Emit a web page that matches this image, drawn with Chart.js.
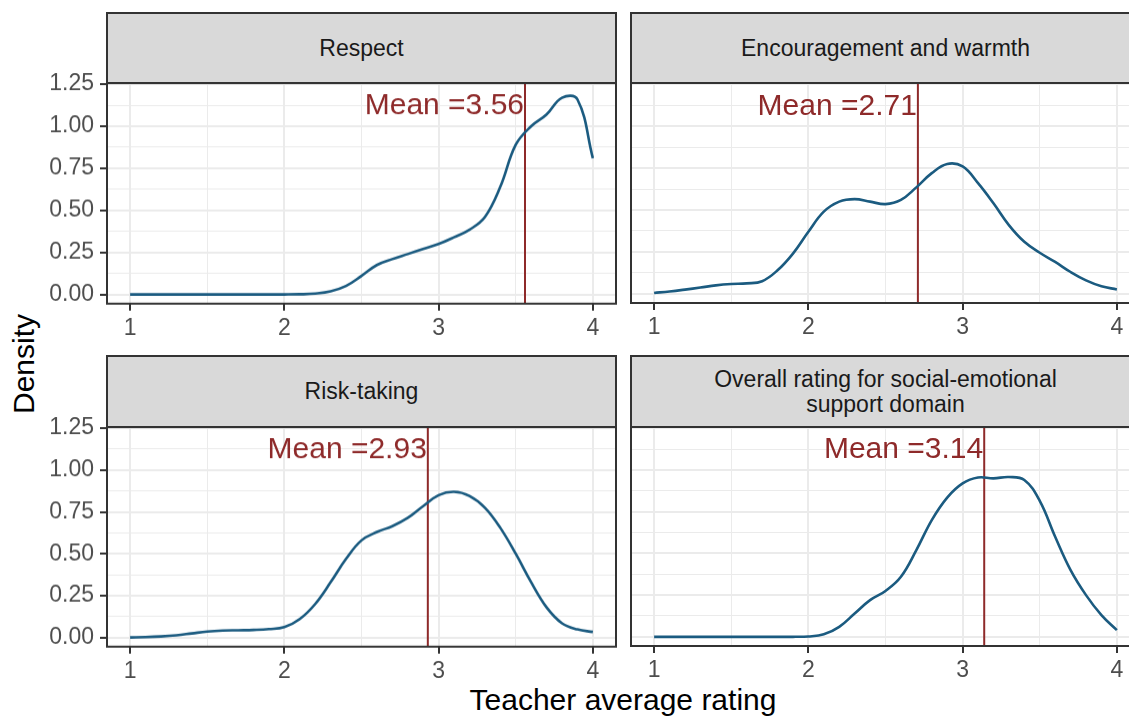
<!DOCTYPE html>
<html>
<head>
<meta charset="utf-8">
<title>Teacher average rating - density</title>
<script src="https://cdn.jsdelivr.net/npm/chart.js@4.4.1/dist/chart.umd.min.js"></script>
<style>
    html, body { margin: 0; padding: 0; background: #fff; }
    body {
        width: 1129px; height: 716px; overflow: hidden; position: relative;
        font-family: "Liberation Sans", Arial, sans-serif;
    }
    .panel { position: absolute; }
    .strip {
        position: absolute; box-sizing: border-box;
        background: #d9d9d9; border: 2px solid #333;
        color: #1a1a1a; font-size: 23px; line-height: 25px;
        display: flex; align-items: center; justify-content: center; text-align: center;
    }
    .axis-title { position: absolute; font-size: 30px; line-height: 1; color: #000; white-space: nowrap; }
</style>
</head>
<body>

<div class="axis-title" style="left:24px; top:364px; transform: translate(-50%, -50%) rotate(-90deg);">Density</div>
<div class="axis-title" style="left:623px; top:685px; transform: translateX(-50%);">Teacher average rating</div>

<script>
// Data
const ratings = [1.0, 1.1, 1.2, 1.3, 1.4, 1.5, 1.6, 1.7, 1.8, 1.9,
                 2.0, 2.1, 2.2, 2.3, 2.4, 2.5, 2.6, 2.7, 2.8, 2.9,
                 3.0, 3.1, 3.2, 3.3, 3.4, 3.5, 3.6, 3.7, 3.8, 3.9, 4.0];

const respect = [0, 0, 0, 0, 0, 0, 0, 0, 0, 0,
                 0, 0.001, 0.005, 0.018, 0.05, 0.11, 0.175, 0.21, 0.24, 0.27,
                 0.30, 0.34, 0.385, 0.46, 0.64, 0.89, 1.00, 1.07, 1.17, 1.16, 0.81];

const encouragement = [0.005, 0.014, 0.025, 0.037, 0.05, 0.058, 0.062, 0.075, 0.14, 0.24,
                       0.37, 0.49, 0.55, 0.565, 0.55, 0.535, 0.56, 0.635, 0.72, 0.775,
                       0.76, 0.66, 0.54, 0.41, 0.31, 0.245, 0.19, 0.13, 0.08, 0.045, 0.026];

const riskTaking = [0, 0.002, 0.006, 0.013, 0.024, 0.035, 0.041, 0.043, 0.045, 0.05,
                    0.062, 0.11, 0.2, 0.33, 0.47, 0.58, 0.63, 0.665, 0.715, 0.785,
                    0.85, 0.87, 0.845, 0.775, 0.655, 0.5, 0.33, 0.18, 0.085, 0.048, 0.033];

const overall = [0, 0, 0, 0, 0, 0, 0, 0, 0, 0,
                 0.002, 0.015, 0.06, 0.14, 0.22, 0.275, 0.36, 0.52, 0.70, 0.835,
                 0.92, 0.955, 0.95, 0.958, 0.94, 0.815, 0.6, 0.4, 0.25, 0.13, 0.04];

const panelTitles = ['Respect', 'Encouragement and warmth', 'Risk-taking',
                     'Overall rating for social-emotional<br>support domain'];
const means = [3.56, 2.71, 2.93, 3.14];
const xTicks = [1, 2, 3, 4];
const yTicks = [0, 0.25, 0.5, 0.75, 1, 1.25];

const X_MIN = 0.85, X_MAX = 4.15;
const Y_MIN = -0.055, Y_MAX = 1.258;
const LABEL_Y = 1.07;

const lineColor = '#1b5b80';
const meanColor = '#8e2a2a';
const fontFamily = '"Liberation Sans", Arial, sans-serif';

// panel plot rectangles (pixels)
const panels = [
    { values: respect,       left: 107, top: 83,  stripTop: 13,  showY: true },
    { values: encouragement, left: 631, top: 83,  stripTop: 13,  showY: false },
    { values: riskTaking,    left: 107, top: 427, stripTop: 356, showY: true },
    { values: overall,       left: 631, top: 427, stripTop: 356, showY: false }
];
const PLOT_W = 509;
const PLOT_H = [220, 220, 219, 219];

function near(list, v) {
    return list.some(t => Math.abs(t - v) < 1e-6);
}

// panel border + mean label
const panelDecor = {
    id: 'panelDecor',
    afterDatasetsDraw(chart, args, opts) {
        const { ctx, scales } = chart;
        const x = scales.x.getPixelForValue(opts.mean);
        const y = scales.y.getPixelForValue(LABEL_Y);
        ctx.save();
        ctx.fillStyle = meanColor;
        ctx.font = '30px ' + fontFamily;
        ctx.textAlign = 'right';
        ctx.textBaseline = 'alphabetic';
        ctx.fillText('Mean =' + opts.mean.toFixed(2), x - 1, y);
        ctx.restore();
    },
    afterDraw(chart) {
        const { ctx, chartArea } = chart;
        ctx.save();
        ctx.strokeStyle = '#333333';
        ctx.lineWidth = 2;
        ctx.strokeRect(chartArea.left, chartArea.top, chartArea.right - chartArea.left, chartArea.bottom - chartArea.top);
        ctx.restore();
    }
};

document.addEventListener('DOMContentLoaded', function() {
    panels.forEach((p, i) => {
        const yw = p.showY ? p.left : 10;
        const padTop = 18, padRight = 4, xh = 45;
        const w = yw + PLOT_W + padRight;
        const h = padTop + PLOT_H[i] + xh;

        // strip header
        const strip = document.createElement('div');
        strip.className = 'strip';
        strip.style.left = (p.left - 1) + 'px';
        strip.style.top = (p.stripTop - 1) + 'px';
        strip.style.width = (PLOT_W + 2) + 'px';
        strip.style.height = (p.top - p.stripTop + 2) + 'px';
        strip.innerHTML = panelTitles[i];

        const wrap = document.createElement('div');
        wrap.className = 'panel';
        wrap.style.left = (p.left - yw) + 'px';
        wrap.style.top = (p.top - padTop) + 'px';
        const canvas = document.createElement('canvas');
        canvas.width = w;
        canvas.height = h;
        canvas.style.width = w + 'px';
        canvas.style.height = h + 'px';
        wrap.appendChild(canvas);
        document.body.appendChild(wrap);
        document.body.appendChild(strip);

        const chart = new Chart(canvas.getContext('2d'), {
            type: 'line',
            data: {
                datasets: [
                    {
                        data: ratings.map((r, k) => ({ x: r, y: p.values[k] })),
                        borderColor: lineColor,
                        borderWidth: 2.6,
                        pointRadius: 0,
                        tension: 0.4,
                        order: 0
                    },
                    {
                        data: [{ x: means[i], y: Y_MIN }, { x: means[i], y: Y_MAX }],
                        borderColor: meanColor,
                        borderWidth: 2,
                        pointRadius: 0,
                        order: 1
                    }
                ]
            },
            options: {
                responsive: false,
                maintainAspectRatio: false,
                animation: false,
                layout: { padding: { top: padTop, right: padRight, left: 0, bottom: 0 } },
                plugins: {
                    legend: { display: false },
                    tooltip: { enabled: false },
                    panelDecor: { mean: means[i] }
                },
                scales: {
                    x: {
                        type: 'linear',
                        min: X_MIN,
                        max: X_MAX,
                        afterFit: s => { s.height = xh; },
                        border: { display: false },
                        grid: {
                            color: '#ebebeb',
                            lineWidth: c => (c.tick && near(xTicks, c.tick.value)) ? 2 : 1,
                            tickColor: c => (c.tick && near(xTicks, c.tick.value)) ? '#333333' : 'rgba(0,0,0,0)',
                            tickLength: 7,
                            tickWidth: 2
                        },
                        ticks: {
                            stepSize: 0.5,
                            includeBounds: false,
                            autoSkip: false,
                            maxRotation: 0,
                            padding: 4,
                            color: '#4d4d4d',
                            font: { family: fontFamily, size: 23 },
                            callback: v => near(xTicks, v) ? String(Math.round(v)) : ''
                        }
                    },
                    y: {
                        type: 'linear',
                        min: Y_MIN,
                        max: Y_MAX,
                        afterFit: s => { s.width = yw; },
                        border: { display: false },
                        grid: {
                            color: '#ebebeb',
                            lineWidth: c => (c.tick && near(yTicks, c.tick.value)) ? 2 : 1,
                            tickColor: c => (c.tick && near(yTicks, c.tick.value)) ? '#333333' : 'rgba(0,0,0,0)',
                            drawTicks: p.showY,
                            tickLength: 7,
                            tickWidth: 2
                        },
                        ticks: {
                            display: p.showY,
                            stepSize: 0.125,
                            includeBounds: false,
                            autoSkip: false,
                            padding: 6,
                            color: '#4d4d4d',
                            font: { family: fontFamily, size: 23 },
                            callback: v => near(yTicks, v) ? v.toFixed(2) : ''
                        }
                    }
                }
            },
            plugins: [panelDecor]
        });

        // keep the plot area where the panel sits, whatever space the labels took
        const extra = chart.chartArea.top - padTop;
        if (Math.abs(extra) > 0.1) {
            chart.resize(w, h + extra);
        }
        wrap.style.top = (p.top - chart.chartArea.top) + 'px';
        wrap.style.left = (p.left - chart.chartArea.left) + 'px';
    });
});
</script>
</body>
</html>
